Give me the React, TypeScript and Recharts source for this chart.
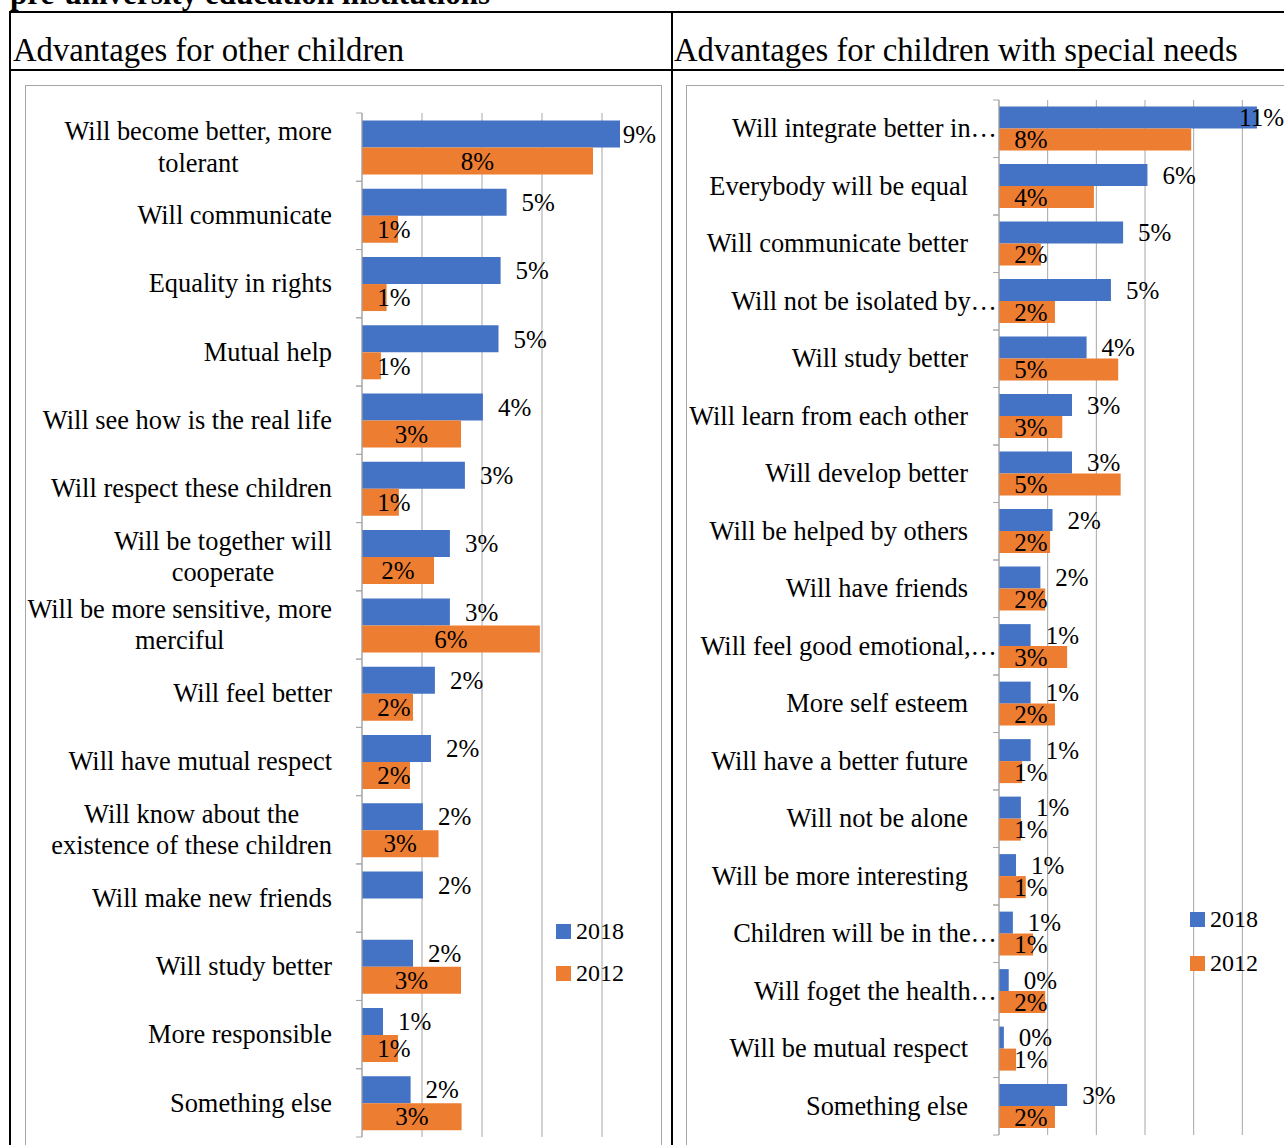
import { BarChart, Bar, XAxis, YAxis, CartesianGrid, LabelList } from 'recharts'

// left chart: advantages for other children (values in %)
const leftCategories = [
  'Will become better, more\ntolerant',
  'Will communicate',
  'Equality in rights',
  'Mutual help',
  'Will see how is the real life',
  'Will respect these children',
  'Will be together will\ncooperate',
  'Will be more sensitive, more\nmerciful',
  'Will feel better',
  'Will have mutual respect',
  'Will know about the\nexistence of these children',
  'Will make new friends',
  'Will study better',
  'More responsible',
  'Something else',
]
const left2018 = [8.6, 4.82, 4.62, 4.55, 4.03, 3.43, 2.93, 2.93, 2.43, 2.3, 2.03, 2.03, 1.7, 0.7, 1.62]
const left2012 = [7.7, 1.2, 0.82, 0.63, 3.3, 1.23, 2.4, 5.93, 1.7, 1.6, 2.55, null, 3.3, 1.2, 3.32]
const leftTicks = [0, 2, 4, 6, 8, 10]

// right chart: advantages for children with special needs
const rightCategories = [
  'Will integrate better in…',
  'Everybody will be equal',
  'Will communicate better',
  'Will not be isolated by…',
  'Will study better',
  'Will learn from each other',
  'Will develop better',
  'Will be helped by others',
  'Will have friends',
  'Will feel good emotional,…',
  'More self esteem',
  'Will have a better future',
  'Will not be alone',
  'Will be more interesting',
  'Children will be in the…',
  'Will foget the health…',
  'Will be mutual respect',
  'Something else',
]
const right2018 = [10.6, 6.1, 5.1, 4.6, 3.6, 3.0, 3.0, 2.2, 1.7, 1.3, 1.3, 1.3, 0.9, 0.7, 0.57, 0.4, 0.2, 2.8]
const right2012 = [7.9, 3.9, 1.72, 2.3, 4.9, 2.6, 5.0, 2.1, 1.9, 2.8, 2.3, 0.95, 0.9, 1.1, 1.4, 1.9, 0.7, 2.3]
const rightTicks = [0, 2, 4, 6, 8, 10, 12]

const BLUE = '#4472C4'
const ORANGE = '#ED7D31'
const GRID = '#a6a6a6'
const FONT = '"Liberation Serif", serif'
const CAT_SIZE = 26.4
const LBL_SIZE = 25

const leftData = leftCategories.map((name, i) => ({ name, y2018: left2018[i], y2012: left2012[i] }))
const rightData = rightCategories.map((name, i) => ({ name, y2018: right2018[i], y2012: right2012[i] }))

let ctx: CanvasRenderingContext2D | null = null
function textWidth(s: string, size: number) {
  if (!ctx) ctx = document.createElement('canvas').getContext('2d')
  if (!ctx) return s.length * size * 0.45
  ctx.font = `${size}px "Liberation Serif"`
  return ctx.measureText(s).width
}

const pct = (v: number) => `${Math.round(v)}%`

// category labels + boundary tick marks (Excel puts ticks between categories)
function makeTick(axisX: number, band: number, gap: number, ellipsisGap: number) {
  return function Tick(props: any) {
    const { y, payload } = props
    const label = String(payload.value)
    const lines = label.split('\n')
    const maxW = Math.max(...lines.map(l => textWidth(l, CAT_SIZE)))
    const right = axisX - (label.endsWith('…') ? ellipsisGap : gap)
    const cx = right - maxW / 2
    const lh = 31.5
    return (
      <g>
        <line x1={axisX - 6} x2={axisX} y1={y - band / 2} y2={y - band / 2} stroke={GRID} />
        <line x1={axisX - 6} x2={axisX} y1={y + band / 2} y2={y + band / 2} stroke={GRID} />
        {lines.map((l, i) => (
          <text key={i} x={cx} y={y + (i - (lines.length - 1) / 2) * lh} dy="0.33em"
            textAnchor="middle" fontFamily={FONT} fontSize={CAT_SIZE} fill="#000">{l}</text>
        ))}
      </g>
    )
  }
}

function outsideLabel(limit: number) {
  return function Lbl(props: any) {
    const { x, y, width, height, value } = props
    if (value == null) return null
    const s = pct(Number(value))
    const w = textWidth(s, LBL_SIZE)
    const lx = Math.min(Number(x) + Number(width) + 15, limit - w)
    return <text x={lx} y={Number(y) + Number(height) / 2} dy="0.35em" fontFamily={FONT} fontSize={LBL_SIZE} fill="#000">{s}</text>
  }
}

function innerLabel(centered: boolean) {
  return function Lbl(props: any) {
    const { x, y, width, height, value } = props
    if (value == null) return null
    const x0 = Number(x)
    const cx = centered ? Math.max(x0 + Number(width) / 2, x0 + 32) : x0 + 32
    return <text x={cx} y={Number(y) + Number(height) / 2} dy="0.35em" textAnchor="middle" fontFamily={FONT} fontSize={LBL_SIZE} fill="#000">{pct(Number(value))}</text>
  }
}

function Legend2({ left, top, gap }: { left: number; top: number; gap: number }) {
  const items = [{ c: BLUE, t: '2018' }, { c: ORANGE, t: '2012' }]
  return (
    <div style={{ position: 'absolute', left, top }}>
      {items.map((it, i) => (
        <div key={it.t} style={{ position: 'absolute', left: 0, top: i * gap, display: 'flex', alignItems: 'center', whiteSpace: 'nowrap' }}>
          <div style={{ width: 15, height: 15, background: it.c, marginRight: 5 }} />
          <span style={{ fontFamily: FONT, fontSize: 24, lineHeight: '15px' }}>{it.t}</span>
        </div>
      ))}
    </div>
  )
}

const L_W = 637
const L_AXIS = 337
const R_W = 605
const R_AXIS = 313
const CH_H = 1080

export default function App() {
  return (
    <div style={{ position: 'absolute', left: 0, top: 0, width: 1284, height: 1145, overflow: 'hidden', background: '#fff', fontFamily: FONT }}>
      <div style={{ position: 'absolute', left: 10, top: -24, fontSize: 31, fontWeight: 'bold', whiteSpace: 'nowrap' }}>
        pre-university education institutions
      </div>
      {/* table lines */}
      <div style={{ position: 'absolute', left: 9, top: 11, width: 1300, height: 2, background: '#000' }} />
      <div style={{ position: 'absolute', left: 9, top: 69, width: 1300, height: 2, background: '#000' }} />
      <div style={{ position: 'absolute', left: 9, top: 11, width: 2, height: 1200, background: '#000' }} />
      <div style={{ position: 'absolute', left: 671, top: 11, width: 2, height: 1200, background: '#000' }} />
      <div style={{ position: 'absolute', left: 13, top: 30, fontSize: 32.7, whiteSpace: 'nowrap', lineHeight: '40px' }}>Advantages for other children</div>
      <div style={{ position: 'absolute', left: 674, top: 30, fontSize: 32.7, whiteSpace: 'nowrap', lineHeight: '40px' }}>Advantages for children with special needs</div>

      {/* left chart */}
      <div style={{ position: 'absolute', left: 25, top: 85, width: L_W, height: CH_H, boxSizing: 'border-box', border: `1.5px solid ${GRID}` }} />
      <div style={{ position: 'absolute', left: 25, top: 85 }}>
        <BarChart width={L_W} height={CH_H} data={leftData} layout="vertical"
          margin={{ top: 28, right: 0, bottom: 28, left: 0 }} barCategoryGap="11%" barGap={0}>
          <CartesianGrid horizontal={false} stroke={GRID} />
          <XAxis type="number" domain={[0, 10]} ticks={leftTicks} hide />
          <YAxis type="category" dataKey="name" width={L_AXIS} axisLine={{ stroke: GRID }} tickLine={false}
            interval={0} tick={makeTick(L_AXIS, 1024 / leftCategories.length, 30, 2)} />
          <Bar dataKey="y2018" fill={BLUE} isAnimationActive={false}>
            <LabelList dataKey="y2018" content={outsideLabel(L_W - 6)} />
          </Bar>
          <Bar dataKey="y2012" fill={ORANGE} isAnimationActive={false}>
            <LabelList dataKey="y2012" content={innerLabel(true)} />
          </Bar>
        </BarChart>
      </div>
      <Legend2 left={556} top={924} gap={42} />

      {/* right chart */}
      <div style={{ position: 'absolute', left: 686, top: 85, width: R_W, height: CH_H, boxSizing: 'border-box', border: `1.5px solid ${GRID}` }} />
      <div style={{ position: 'absolute', left: 686, top: 85 }}>
        <BarChart width={R_W} height={CH_H} data={rightData} layout="vertical"
          margin={{ top: 15, right: 0, bottom: 30, left: 0 }} barCategoryGap="11.5%" barGap={0}>
          <CartesianGrid horizontal={false} stroke={GRID} />
          <XAxis type="number" domain={[0, 12]} ticks={rightTicks} hide />
          <YAxis type="category" dataKey="name" width={R_AXIS} axisLine={{ stroke: GRID }} tickLine={false}
            interval={0} tick={makeTick(R_AXIS, 1035 / rightCategories.length, 31, 2)} />
          <Bar dataKey="y2018" fill={BLUE} isAnimationActive={false}>
            <LabelList dataKey="y2018" content={outsideLabel(R_W - 7)} />
          </Bar>
          <Bar dataKey="y2012" fill={ORANGE} isAnimationActive={false}>
            <LabelList dataKey="y2012" content={innerLabel(false)} />
          </Bar>
        </BarChart>
      </div>
      <Legend2 left={1190} top={912} gap={44} />
    </div>
  )
}
